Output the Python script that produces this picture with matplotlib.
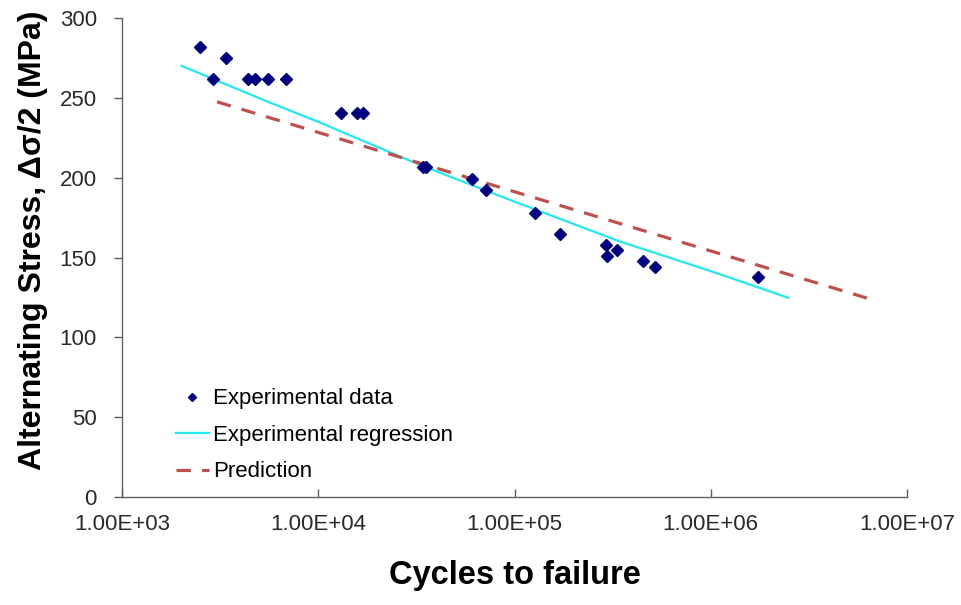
import matplotlib
matplotlib.use('Agg')
import matplotlib.pyplot as plt

plt.rcParams['font.family'] = ['Liberation Sans', 'DejaVu Sans']

# experimental data (cycles, stress MPa)
exp_cycles = [2495, 2910, 3390, 4385, 4760, 5545, 6855, 13060, 15700, 16980,
              34200, 35400, 60700, 71600, 127000, 170600, 291600, 297300,
              334000, 450000, 520000, 1746000]
exp_stress = [282, 261.5, 275, 261.5, 261.5, 261.5, 261.5, 240.5, 240.5, 240.5,
              206.6, 206.6, 199.4, 192.5, 178.1, 165, 157.9, 151.2,
              154.4, 147.7, 143.9, 138.1]

# experimental regression curve
reg_cycles = [2014, 5680, 10000, 32960, 100000, 345000, 1000000, 2480000]
reg_stress = [270, 247, 235, 208, 185, 160, 141.5, 124.8]

# prediction line
pred_cycles = [3050, 100000, 6320000]
pred_stress = [247.5, 191.2, 124.4]

x_ticks = [1e3, 1e4, 1e5, 1e6, 1e7]
x_tick_labels = ['1.00E+03', '1.00E+04', '1.00E+05', '1.00E+06', '1.00E+07']
y_ticks = [0, 50, 100, 150, 200, 250, 300]

fig = plt.figure(figsize=(9.61, 6.05), dpi=100)
ax = fig.add_axes([122 / 961, 1 - 497 / 605, 785 / 961, 479 / 605])

ax.plot(exp_cycles, exp_stress, linestyle='none', marker='D', markersize=6.5,
        color='#000080', label='Experimental data', zorder=3)
ax.plot(reg_cycles, reg_stress, color='#22E8F0', linewidth=1.6,
        label='Experimental regression')
ax.plot(pred_cycles, pred_stress, color='#C0504D', linewidth=2.3,
        linestyle=(0, (4.5, 3.5)), label='Prediction')

ax.set_xscale('log')
ax.set_xlim(1e3, 1e7)
ax.set_ylim(0, 300)
ax.set_xticks(x_ticks)
ax.set_xticklabels(x_tick_labels)
ax.set_yticks(y_ticks)
ax.minorticks_off()

for side in ['top', 'right']:
    ax.spines[side].set_visible(False)
for side in ['left', 'bottom']:
    ax.spines[side].set_color('#606060')
    ax.spines[side].set_linewidth(1.0)

ax.tick_params(axis='x', direction='in', length=6, width=1, color='#606060',
               labelsize=16, labelcolor='#2a2a2a', pad=12)
ax.tick_params(axis='y', direction='out', length=6, width=1, color='#606060',
               labelsize=16, labelcolor='#2a2a2a', pad=12)

ax.set_xlabel('Cycles to failure', fontsize=23.5, fontweight='bold', labelpad=18)
ax.set_ylabel('Alternating Stress, \u0394\u03c3/2 (MPa)', fontsize=23,
              fontweight='bold')
ax.yaxis.set_label_coords(-0.094, 0.537)

leg = ax.legend(loc='upper left', bbox_to_anchor=(0.054, 0.25), frameon=False,
                fontsize=16, handlelength=1.5, handletextpad=0.2,
                labelspacing=0.7, borderpad=0, markerscale=0.6)

fig.savefig('out.png', dpi=100)
